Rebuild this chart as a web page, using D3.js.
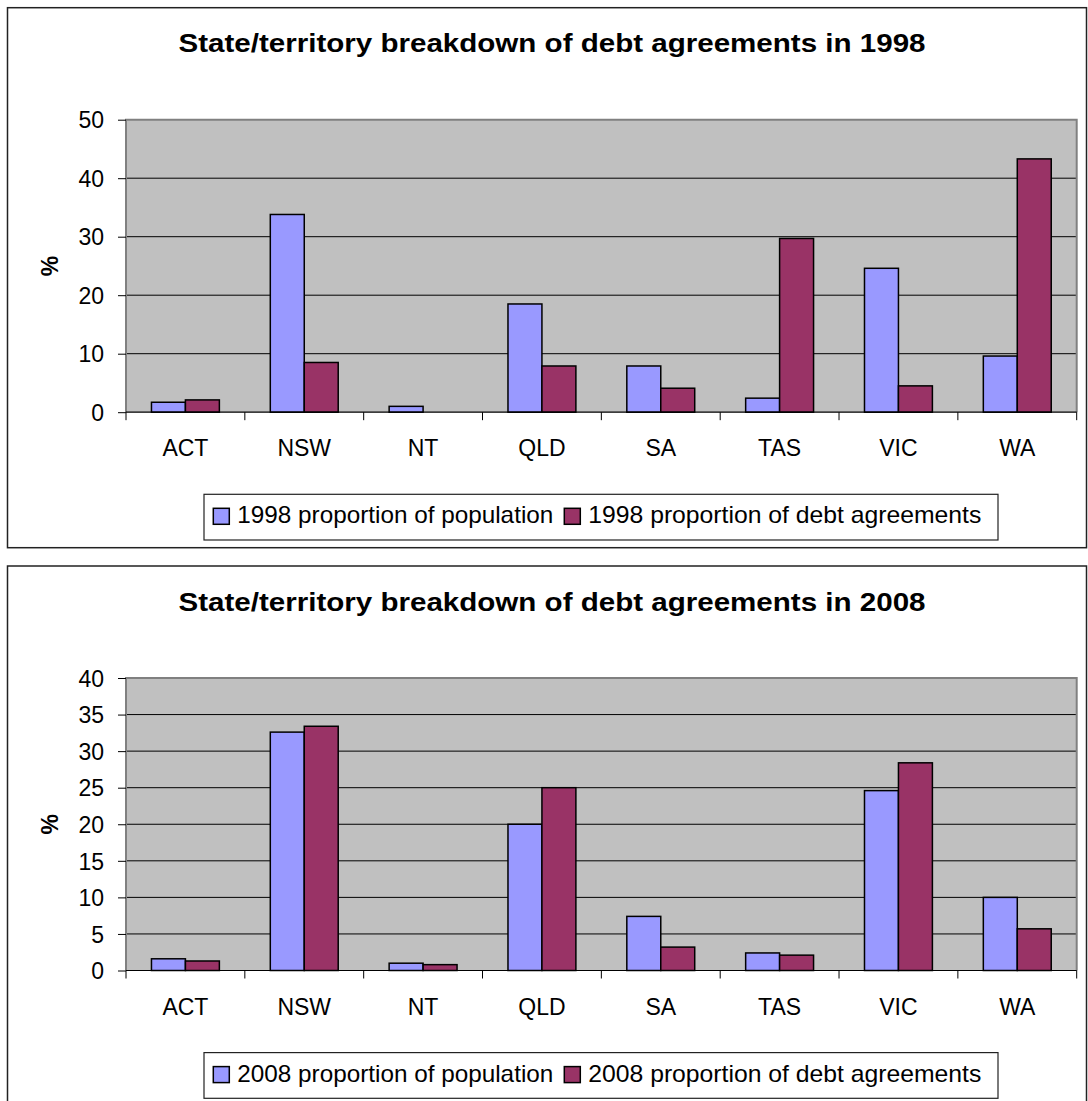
<!DOCTYPE html>
<html>
<head>
<meta charset="utf-8">
<script src="https://cdn.jsdelivr.net/npm/d3@7"></script>
<style>
  body { margin: 0; background: #fff; }
  svg { display: block; font-family: Arial, "Liberation Sans", sans-serif; }
</style>
</head>
<body>
<div id="chart"></div>
<script>
// State/territory breakdown of debt agreements, 1998 vs 2008

const categories = ['ACT', 'NSW', 'NT', 'QLD', 'SA', 'TAS', 'VIC', 'WA'];

const pop1998 = [1.7, 33.8, 1.0, 18.5, 7.9, 2.4, 24.6, 9.6];
const debt1998 = [2.1, 8.5, 0, 7.9, 4.1, 29.7, 4.5, 43.3];
const ticks1998 = [0, 10, 20, 30, 40, 50];

const pop2008 = [1.6, 32.6, 1.0, 20.0, 7.4, 2.4, 24.6, 10.0];
const debt2008 = [1.3, 33.4, 0.8, 25.0, 3.2, 2.1, 28.4, 5.7];
const ticks2008 = [0, 5, 10, 15, 20, 25, 30, 35, 40];

const colors = ['#9999ff', '#993366'];

const W = 1088, H = 1101;
const svg = d3.select('#chart').append('svg')
    .attr('width', W)
    .attr('height', H);

function drawChart(top, year, popVals, debtVals, ticks) {
    const g = svg.append('g').attr('transform', `translate(0,${top})`);

    // outer frame
    g.append('rect')
        .attr('x', 7.5).attr('y', 0)
        .attr('width', 1079).attr('height', 540)
        .attr('fill', '#fff')
        .attr('stroke', '#222')
        .attr('stroke-width', 1.5);

    // title
    g.append('text')
        .attr('x', 552)
        .attr('y', 44.6)
        .attr('text-anchor', 'middle')
        .attr('textLength', 747)
        .attr('lengthAdjust', 'spacingAndGlyphs')
        .style('font-size', '26.5px')
        .style('font-weight', 'bold')
        .text(`State/territory breakdown of debt agreements in ${year}`);

    const plotLeft = 126, plotRight = 1076.7, plotTop = 112, plotBottom = 404.5;

    const x0 = d3.scaleBand()
        .domain(categories)
        .range([plotLeft, plotRight])
        .padding(0);

    const series = ['pop', 'debt'];
    const x1 = d3.scaleBand()
        .domain(series)
        .range([0, x0.bandwidth()])
        .paddingInner(0)
        .paddingOuter(0.75);

    const y = d3.scaleLinear()
        .domain([0, d3.max(ticks)])
        .range([plotBottom, plotTop]);

    // plot background
    g.append('rect')
        .attr('x', plotLeft).attr('y', plotTop)
        .attr('width', plotRight - plotLeft)
        .attr('height', plotBottom - plotTop)
        .attr('fill', '#c0c0c0');

    // gridlines
    g.append('g')
        .selectAll('line')
        .data(ticks.filter(t => t > 0 && t < d3.max(ticks)))
        .enter()
        .append('line')
        .attr('x1', plotLeft).attr('x2', plotRight)
        .attr('y1', d => y(d)).attr('y2', d => y(d))
        .attr('stroke', '#000')
        .attr('stroke-width', 1);

    // plot border (top, right, left in grey)
    g.append('path')
        .attr('d', `M${plotLeft},${plotBottom}V${plotTop}H${plotRight}V${plotBottom}`)
        .attr('fill', 'none')
        .attr('stroke', '#808080')
        .attr('stroke-width', 2);

    // bars
    const rows = categories.map((c, i) => ({ cat: c, pop: popVals[i], debt: debtVals[i] }));
    const groups = g.append('g')
        .selectAll('g')
        .data(rows)
        .enter()
        .append('g')
        .attr('transform', d => `translate(${x0(d.cat)},0)`);

    groups.selectAll('rect')
        .data(d => series.map((k, j) => ({ key: k, value: d[k], color: colors[j] })))
        .enter()
        .filter(d => d.value > 0)
        .append('rect')
        .attr('x', d => x1(d.key))
        .attr('y', d => y(d.value))
        .attr('width', x1.bandwidth())
        .attr('height', d => y(0) - y(d.value))
        .attr('fill', d => d.color)
        .attr('stroke', '#000')
        .attr('stroke-width', 1.5);

    // y axis
    const yAxis = g.append('g')
        .attr('transform', `translate(${plotLeft},0)`)
        .call(d3.axisLeft(y).tickValues(ticks).tickSize(8).tickPadding(14));
    yAxis.select('.domain').remove();
    yAxis.selectAll('.tick line').attr('stroke', '#000');
    yAxis.selectAll('.tick text')
        .attr('fill', '#000')
        .style('font-size', '23px')
        .style('font-family', 'Arial, "Liberation Sans", sans-serif')
        .attr('dy', '0.36em');

    // x axis line and boundary ticks
    g.append('line')
        .attr('x1', plotLeft).attr('x2', plotRight)
        .attr('y1', plotBottom).attr('y2', plotBottom)
        .attr('stroke', '#000')
        .attr('stroke-width', 1.2);

    const bounds = categories.map(c => x0(c)).concat([plotRight]);
    g.append('g')
        .selectAll('line')
        .data(bounds)
        .enter()
        .append('line')
        .attr('x1', d => d).attr('x2', d => d)
        .attr('y1', plotBottom).attr('y2', plotBottom + 8)
        .attr('stroke', '#000');

    g.append('g')
        .selectAll('text')
        .data(categories)
        .enter()
        .append('text')
        .attr('x', d => x0(d) + x0.bandwidth() / 2)
        .attr('y', plotBottom + 44)
        .attr('text-anchor', 'middle')
        .style('font-size', '23px')
        .text(d => d);

    // y axis title
    g.append('text')
        .attr('transform', `translate(58,${(plotTop + plotBottom) / 2}) rotate(-90)`)
        .attr('text-anchor', 'middle')
        .style('font-size', '23px')
        .style('font-weight', 'bold')
        .text('%');

    // legend
    const legend = g.append('g');
    legend.append('rect')
        .attr('x', 204).attr('y', 486.6)
        .attr('width', 794).attr('height', 45.7)
        .attr('fill', '#fff')
        .attr('stroke', '#222')
        .attr('stroke-width', 1.2);

    const labels = [`${year} proportion of population`, `${year} proportion of debt agreements`];
    const labelWidths = [316, 393];
    let lx = 213.3;
    labels.forEach((lab, j) => {
        legend.append('rect')
            .attr('x', lx).attr('y', 500.6)
            .attr('width', 16).attr('height', 16)
            .attr('fill', colors[j])
            .attr('stroke', '#000')
            .attr('stroke-width', 1.5);
        legend.append('text')
            .attr('x', lx + 24)
            .attr('y', 515.5)
            .attr('textLength', labelWidths[j])
            .attr('lengthAdjust', 'spacingAndGlyphs')
            .style('font-size', '24px')
            .text(lab);
        lx = lx + 24 + labelWidths[j] + 11;
    });
}

drawChart(7.7, 1998, pop1998, debt1998, ticks1998);
drawChart(566, 2008, pop2008, debt2008, ticks2008);
</script>
</body>
</html>
